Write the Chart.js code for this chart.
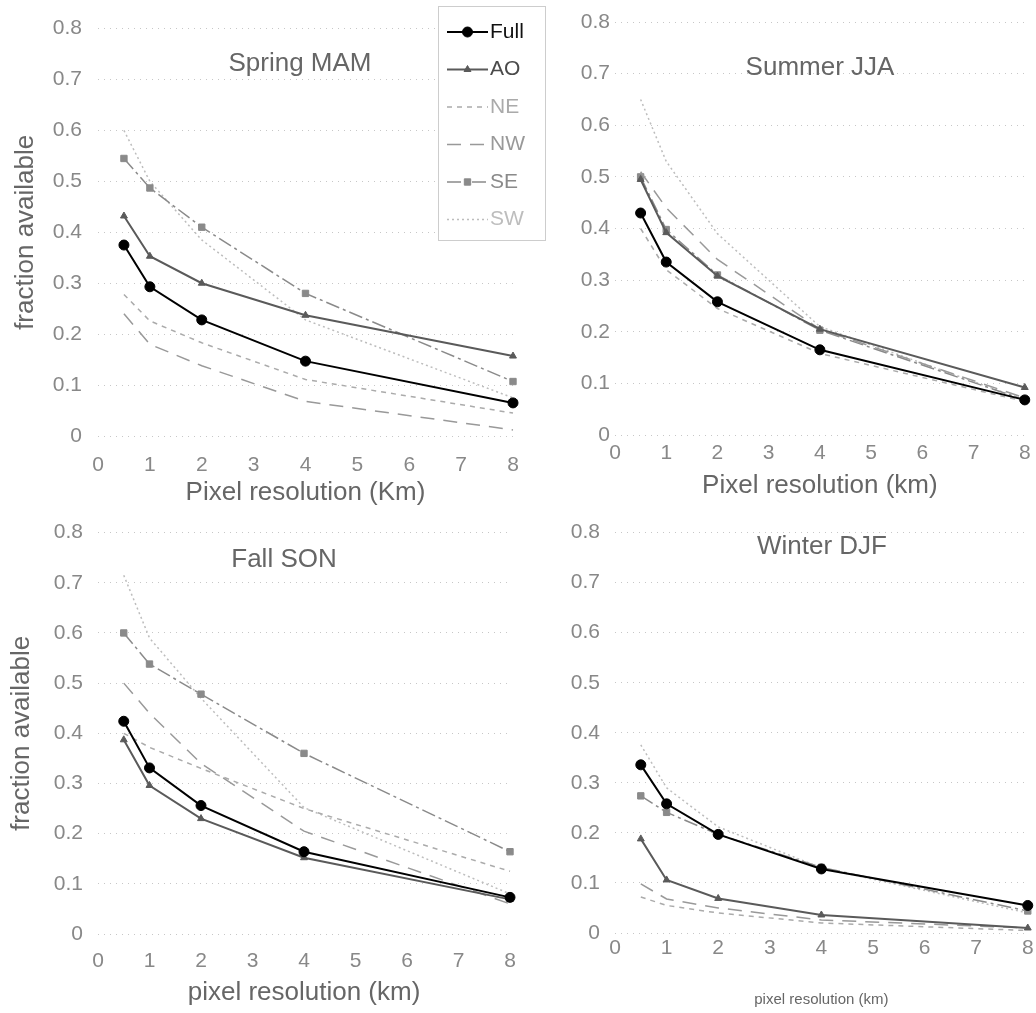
<!DOCTYPE html>
<html>
<head>
<meta charset="utf-8">
<title>fraction available vs pixel resolution</title>
<script src="https://cdn.jsdelivr.net/npm/chart.js@4.4.1/dist/chart.umd.min.js"></script>
<style>
  html, body { margin: 0; padding: 0; background: #fff; }
  #wrap { position: relative; width: 1036px; height: 1013px; overflow: hidden; }
  #wrap canvas { position: absolute; }
</style>
</head>
<body>
<div id="wrap">
  <canvas id="spring" width="550" height="510" style="left:0;top:0"></canvas>
  <canvas id="summer" width="486" height="510" style="left:550px;top:0"></canvas>
  <canvas id="fall" width="550" height="508" style="left:0;top:505px"></canvas>
  <canvas id="winter" width="486" height="508" style="left:550px;top:505px"></canvas>
</div>
<script>
// Pixel resolution (km) on x, fraction available on y
var xKm = [0.5, 1, 2, 4, 8];
var xTicks = ['0', '1', '2', '3', '4', '5', '6', '7', '8'];
var yTicks = ['0', '0.1', '0.2', '0.3', '0.4', '0.5', '0.6', '0.7', '0.8'];
var seriesNames = ['Full', 'AO', 'NE', 'NW', 'SE', 'SW'];

// Spring MAM
var springFull = [0.375, 0.293, 0.228, 0.147, 0.065];
var springAO   = [0.432, 0.353, 0.300, 0.237, 0.157];
var springNE   = [0.278, 0.226, 0.183, 0.111, 0.045];
var springNW   = [0.240, 0.180, 0.138, 0.068, 0.012];
var springSE   = [0.545, 0.487, 0.410, 0.280, 0.107];
var springSW   = [0.600, 0.500, 0.385, 0.228, 0.075];

// Summer JJA
var summerFull = [0.430, 0.335, 0.258, 0.165, 0.068];
var summerAO   = [0.495, 0.392, 0.308, 0.205, 0.092];
var summerNE   = [0.400, 0.320, 0.245, 0.158, 0.065];
var summerNW   = [0.510, 0.440, 0.340, 0.205, 0.072];
var summerSE   = [0.500, 0.398, 0.310, 0.203, 0.068];
var summerSW   = [0.650, 0.530, 0.390, 0.210, 0.068];

// Fall SON
var fallFull = [0.424, 0.331, 0.256, 0.164, 0.073];
var fallAO   = [0.387, 0.296, 0.230, 0.152, 0.069];
var fallNE   = [0.400, 0.372, 0.330, 0.250, 0.125];
var fallNW   = [0.500, 0.440, 0.340, 0.205, 0.060];
var fallSE   = [0.600, 0.538, 0.478, 0.360, 0.164];
var fallSW   = [0.715, 0.590, 0.470, 0.252, 0.080];

// Winter DJF
var winterFull = [0.336, 0.258, 0.197, 0.128, 0.055];
var winterAO   = [0.188, 0.106, 0.069, 0.036, 0.010];
var winterNE   = [0.072, 0.055, 0.040, 0.020, 0.005];
var winterNW   = [0.098, 0.068, 0.050, 0.026, 0.010];
var winterSE   = [0.274, 0.241, 0.197, 0.131, 0.044];
var winterSW   = [0.376, 0.290, 0.212, 0.130, 0.040];

(function () {
  var FONT = "'Liberation Sans', Arial, sans-serif";

  var seriesStyle = {
    Full: { color: '#000000', text: '#111111', width: 2, dash: [], point: 'circle', radius: 5 },
    AO:   { color: '#5a5a5a', text: '#4a4a4a', width: 2, dash: [], point: 'triangle', radius: 4 },
    NE:   { color: '#ababab', text: '#aaaaaa', width: 1.5, dash: [5, 5], point: false, radius: 0 },
    NW:   { color: '#999999', text: '#999999', width: 1.5, dash: [14, 9], point: false, radius: 0 },
    SE:   { color: '#8a8a8a', text: '#8a8a8a', width: 1.5, dash: [14, 4, 3, 4], point: 'rect', radius: 4.5 },
    SW:   { color: '#bdbdbd', text: '#bdbdbd', width: 1.5, dash: [2, 3], point: false, radius: 0 }
  };

  function makeSets(values) {
    return seriesNames.map(function (name, i) {
      var st = seriesStyle[name];
      return {
        label: name,
        data: xKm.map(function (x, j) { return { x: x, y: values[i][j] }; }),
        borderColor: st.color,
        backgroundColor: st.color,
        borderWidth: st.width,
        borderDash: st.dash,
        pointStyle: st.point || 'circle',
        pointRadius: st.radius,
        pointBorderWidth: 1,
        pointHoverRadius: st.radius,
        tension: 0,
        clip: false
      };
    });
  }

  // title text sitting inside the plot area
  var panelTitle = {
    id: 'panelTitle',
    afterDraw: function (chart, args, opts) {
      if (!opts.text) return;
      var ctx = chart.ctx;
      ctx.save();
      ctx.font = opts.size + 'px ' + FONT;
      ctx.fillStyle = '#666666';
      ctx.textAlign = 'center';
      ctx.textBaseline = 'middle';
      ctx.fillText(opts.text, opts.x, opts.y);
      ctx.restore();
    }
  };

  // boxed legend that overlaps the first panel's corner
  var boxLegend = {
    id: 'boxLegend',
    afterDraw: function (chart, args, opts) {
      if (!opts.show) return;
      var ctx = chart.ctx;
      ctx.save();
      ctx.fillStyle = '#ffffff';
      ctx.fillRect(opts.left, opts.top, opts.width, opts.height);
      ctx.strokeStyle = '#9a9a9a';
      ctx.lineWidth = 1;
      ctx.setLineDash([1, 1]);
      ctx.strokeRect(opts.left + 0.5, opts.top + 0.5, opts.width, opts.height);
      chart.data.datasets.forEach(function (ds, i) {
        var st = seriesStyle[ds.label];
        var y = opts.top + opts.firstRow + i * opts.rowGap;
        var x0 = opts.left + 9, x1 = opts.left + 50;
        ctx.setLineDash(st.dash);
        ctx.strokeStyle = st.color;
        ctx.lineWidth = st.width;
        ctx.beginPath();
        ctx.moveTo(x0, y);
        ctx.lineTo(x1, y);
        ctx.stroke();
        ctx.setLineDash([]);
        if (st.point) {
          ctx.fillStyle = st.color;
          ctx.lineWidth = 1;
          Chart.helpers.drawPoint(ctx, { pointStyle: st.point, radius: st.radius, rotation: 0, borderWidth: 1 }, (x0 + x1) / 2, y);
        }
        ctx.fillStyle = st.text;
        ctx.font = '21px ' + FONT;
        ctx.textAlign = 'left';
        ctx.textBaseline = 'middle';
        ctx.fillText(ds.label, x1 + 2, y);
      });
      ctx.restore();
    }
  };

  function panel(id, values, p) {
    var canvas = document.getElementById(id);
    var W = canvas.width, H = canvas.height;
    var tickPx = 21, xTitlePx = p.xTitleSize, yTitlePx = 26;
    var tickLH = tickPx * 1.2, xTitleLH = xTitlePx * 1.2, yTitleLH = yTitlePx * 1.2;

    return new Chart(canvas, {
      type: 'line',
      data: { datasets: makeSets(values) },
      plugins: [panelTitle, boxLegend],
      options: {
        responsive: false,
        animation: false,
        events: [],
        layout: { padding: { top: p.top, right: W - p.right, bottom: 0, left: 0 } },
        plugins: {
          legend: { display: false },
          tooltip: { enabled: false },
          panelTitle: { text: p.title, x: p.titleX, y: p.titleY, size: 26 },
          boxLegend: p.legend || { show: false }
        },
        scales: {
          x: {
            type: 'linear',
            min: 0,
            max: 8,
            afterFit: function (s) { s.height = H - p.bottom; },
            ticks: {
              stepSize: 1,
              color: '#888888',
              padding: p.xTickY - p.bottom - tickLH / 2,
              font: { family: FONT, size: tickPx },
              callback: function (v) { return xTicks[Math.round(v)]; }
            },
            grid: { display: false, drawTicks: false },
            border: { display: false },
            title: {
              display: true,
              text: p.xTitle,
              color: '#666666',
              font: { family: FONT, size: xTitlePx },
              padding: { top: 0, bottom: H - p.xTitleY - xTitleLH / 2 }
            }
          },
          y: {
            min: 0,
            max: 0.8,
            afterFit: function (s) { s.width = p.left; },
            ticks: {
              stepSize: 0.1,
              color: '#888888',
              padding: p.yTickPad,
              font: { family: FONT, size: tickPx },
              callback: function (v) { return yTicks[Math.round(v * 10)]; }
            },
            grid: { color: 'rgba(0,0,0,0.22)', drawTicks: false, lineWidth: 1 },
            border: { display: false, dash: [1, 5] },
            title: {
              display: !!p.yTitle,
              text: p.yTitle || '',
              color: '#666666',
              font: { family: FONT, size: yTitlePx },
              padding: { top: (p.yTitleX || 0) - yTitleLH / 2, bottom: 0 }
            }
          }
        }
      }
    });
  }

  function init() {
    panel('spring', [springFull, springAO, springNE, springNW, springSE, springSW], {
      left: 98, right: 513, top: 22, bottom: 436,
      xTickY: 465, xTitle: 'Pixel resolution (Km)', xTitleY: 493, xTitleSize: 26,
      yTickPad: 16, yTitle: 'fraction available', yTitleX: 26,
      title: 'Spring MAM', titleX: 300, titleY: 64,
      legend: { show: true, left: 438, top: 6, width: 107, height: 234, firstRow: 26, rowGap: 37.5 }
    });
    panel('summer', [summerFull, summerAO, summerNE, summerNW, summerSE, summerSW], {
      left: 65, right: 478, top: 22, bottom: 435,
      xTickY: 453, xTitle: 'Pixel resolution (km)', xTitleY: 486, xTitleSize: 26,
      yTickPad: 5, yTitle: null,
      title: 'Summer JJA', titleX: 270, titleY: 68
    });
    panel('fall', [fallFull, fallAO, fallNE, fallNW, fallSE, fallSW], {
      left: 98, right: 510, top: 17, bottom: 429,
      xTickY: 456, xTitle: 'pixel resolution (km)', xTitleY: 488, xTitleSize: 26,
      yTickPad: 15, yTitle: 'fraction available', yTitleX: 22,
      title: 'Fall SON', titleX: 284, titleY: 55
    });
    panel('winter', [winterFull, winterAO, winterNE, winterNW, winterSE, winterSW], {
      left: 65, right: 478, top: 17, bottom: 428,
      xTickY: 443, xTitle: 'pixel resolution (km)', xTitleY: 495, xTitleSize: 15,
      yTickPad: 15, yTitle: null,
      title: 'Winter DJF', titleX: 272, titleY: 42
    });
  }

  if (document.readyState === 'loading') {
    document.addEventListener('DOMContentLoaded', init);
  } else {
    init();
  }
})();
</script>
</body>
</html>
